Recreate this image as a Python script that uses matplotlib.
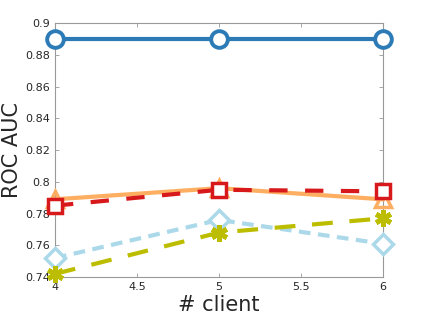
import matplotlib
matplotlib.use("Agg")
import matplotlib.pyplot as plt

clients = [4, 5, 6]
auc_circle = [0.890, 0.890, 0.890]
auc_triangle = [0.789, 0.796, 0.789]
auc_square = [0.785, 0.795, 0.794]
auc_diamond = [0.752, 0.776, 0.761]
auc_star = [0.742, 0.768, 0.777]

fig = plt.figure(figsize=(4.23, 3.17), dpi=100)
ax = fig.add_axes([0.130, 0.126, 0.775, 0.801])

lw = 3
ax.plot(clients, auc_circle, '-', color='#2c7bb6', lw=lw, marker='o', ms=12,
        mfc='white', mew=2.8, clip_on=False, zorder=5)
ax.plot(clients, auc_triangle, '-', color='#fdae61', lw=lw, marker='^', ms=12,
        mfc='none', mew=2.5, clip_on=False, zorder=3)
ax.plot(clients, auc_square, '--', color='#d7191c', lw=lw, marker='s', ms=10,
        mfc='white', mew=2.5, clip_on=False, zorder=4, dashes=(4.4, 4.2))
ax.plot(clients, auc_diamond, '--', color='#abd9e9', lw=lw, marker='D', ms=10,
        mfc='white', mew=2.5, clip_on=False, zorder=3, dashes=(2.8, 1.8))
ax.plot(clients, auc_star, '--', color='#bdbd00', lw=lw, marker=(6, 2, 0), ms=12,
        mew=3.5, clip_on=False, zorder=3, dashes=(5, 4))

ax.set_xlim(4, 6)
ax.set_ylim(0.74, 0.9)
ax.set_xticks([4, 4.5, 5, 5.5, 6])
ax.set_xticklabels(['4', '4.5', '5', '5.5', '6'])
ax.set_yticks([0.74, 0.76, 0.78, 0.8, 0.82, 0.84, 0.86, 0.88, 0.9])
ax.set_yticklabels(['0.74', '0.76', '0.78', '0.8', '0.82', '0.84', '0.86', '0.88', '0.9'])
ax.tick_params(direction='in', length=3, width=0.6, colors='#999999',
               labelcolor='#262626', labelsize=8, top=True, right=True)
for s in ax.spines.values():
    s.set_color('#999999')
    s.set_linewidth(0.8)

ax.set_xlabel('# client', fontsize=15, color='#262626', labelpad=2)
ax.set_ylabel('ROC AUC', fontsize=15, color='#262626', labelpad=2)

fig.savefig('out.png', dpi=100)
